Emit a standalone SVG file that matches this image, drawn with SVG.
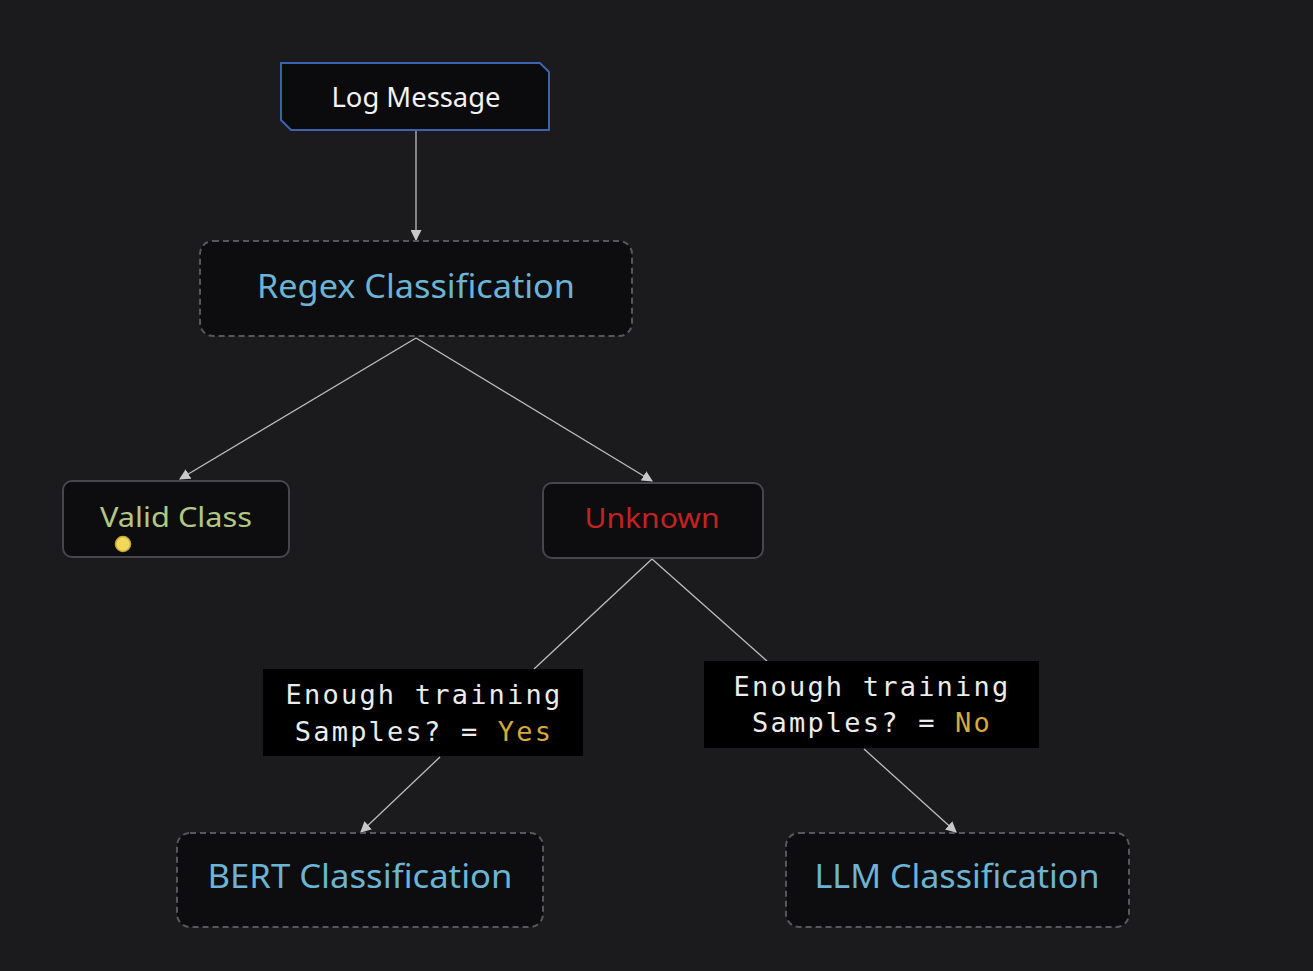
<svg xmlns="http://www.w3.org/2000/svg" width="1313" height="971" viewBox="0 0 1313 971">
<defs>
<marker id="ah" viewBox="0 0 10 10" refX="9" refY="5" markerWidth="11" markerHeight="11" markerUnits="userSpaceOnUse" orient="auto">
<path d="M0,0 L10,5 L0,10 z" fill="#c8c8c8"/>
</marker>
<style>
.bg{fill:#1b1b1d}
.edge{stroke:#bdbdbd;stroke-width:1.3;fill:none}
.dash{fill:#0d0d0f;stroke:#58585c;stroke-width:2;stroke-dasharray:6 4}
.solid{fill:#0d0d0f;stroke:#47474b;stroke-width:2}
.lbl{fill:#000}
.sans{font-family:"Noto Sans","DejaVu Sans",sans-serif;text-anchor:middle}
.mono{font-family:"DejaVu Sans Mono","Liberation Mono",monospace;font-size:27px;letter-spacing:2.2px;fill:#ececec;text-anchor:middle}
.blue{fill:#6cb4d4}
</style>
</defs>
<rect class="bg" x="0" y="0" width="1313" height="971"/>
<g id="connectors">
<line class="edge" x1="416" y1="131" x2="416" y2="240" marker-end="url(#ah)"/>
<line class="edge" x1="416" y1="338" x2="180" y2="479" marker-end="url(#ah)"/>
<line class="edge" x1="416" y1="338" x2="652" y2="481" marker-end="url(#ah)"/>
<line class="edge" x1="652" y1="559" x2="534" y2="669"/>
<line class="edge" x1="652" y1="559" x2="767" y2="661"/>
<line class="edge" x1="440" y1="757" x2="361" y2="832" marker-end="url(#ah)"/>
<line class="edge" x1="864" y1="749" x2="956" y2="832" marker-end="url(#ah)"/>
</g>
<g id="log-message">
<path d="M281,63 L540,63 L549,72 L549,130 L291,130 L281,120 Z" fill="#0b0b0d" stroke="#3d63b0" stroke-width="2"/>
<text class="sans" x="416" y="107" font-size="27" fill="#f2f2f2" textLength="169" lengthAdjust="spacingAndGlyphs">Log Message</text>
</g>
<g id="regex">
<rect class="dash" x="200" y="241" width="432" height="95" rx="13"/>
<text class="sans blue" x="416" y="298" font-size="33" textLength="318" lengthAdjust="spacingAndGlyphs">Regex Classification</text>
</g>
<g id="valid-class">
<rect class="solid" x="63" y="481" width="226" height="76" rx="9"/>
<text class="sans" x="176" y="527" font-size="28" fill="#b3c785" textLength="152" lengthAdjust="spacingAndGlyphs">Valid Class</text>
<circle cx="123" cy="544" r="7.5" fill="#f4d65a" stroke="#c9a83a" stroke-width="1.5"/>
</g>
<g id="unknown">
<rect class="solid" x="543" y="483" width="220" height="75" rx="9"/>
<text class="sans" x="652" y="528" font-size="28" fill="#c22222" textLength="135" lengthAdjust="spacingAndGlyphs">Unknown</text>
</g>
<g id="label-yes">
<rect class="lbl" x="263" y="669" width="320" height="87"/>
<text class="mono" x="424" y="704">Enough training</text>
<text class="mono" x="424" y="741">Samples? = <tspan fill="#d6a93c">Yes</tspan></text>
</g>
<g id="label-no">
<rect class="lbl" x="704" y="661" width="335" height="87"/>
<text class="mono" x="872" y="696">Enough training</text>
<text class="mono" x="872" y="732">Samples? = <tspan fill="#d6a93c">No</tspan></text>
</g>
<g id="bert">
<rect class="dash" x="177" y="833" width="366" height="94" rx="13"/>
<text class="sans blue" x="360" y="888" font-size="33" textLength="305" lengthAdjust="spacingAndGlyphs">BERT Classification</text>
</g>
<g id="llm">
<rect class="dash" x="786" y="833" width="343" height="94" rx="13"/>
<text class="sans blue" x="957" y="888" font-size="33" textLength="285" lengthAdjust="spacingAndGlyphs">LLM Classification</text>
</g>
</svg>
